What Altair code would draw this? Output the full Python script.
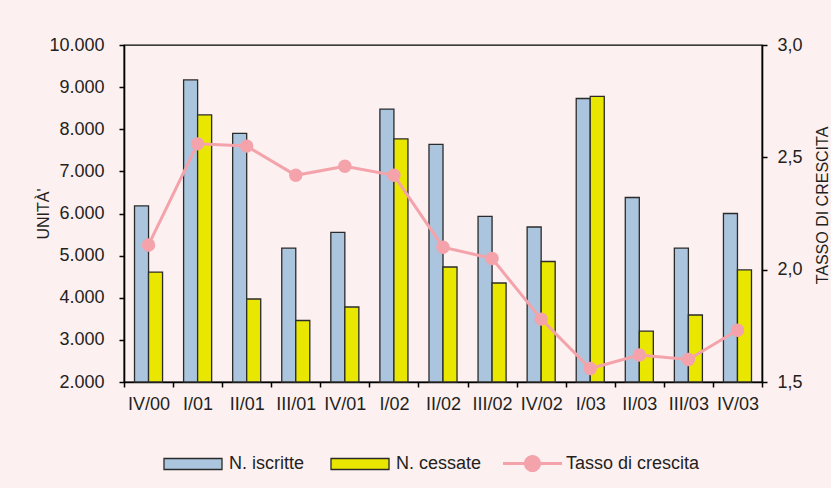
import altair as alt
import pandas as pd

# Quarterly registrations / cessations and growth rate
periodi = ["IV/00", "I/01", "II/01", "III/01", "IV/01", "I/02", "II/02",
           "III/02", "IV/02", "I/03", "II/03", "III/03", "IV/03"]
iscritte = [6180, 9170, 7900, 5180, 5550, 8480, 7640, 5930, 5680, 8730, 6380, 5180, 6000]
cessate = [4610, 8340, 3970, 3460, 3780, 7770, 4730, 4350, 4860, 8780, 3210, 3590, 4660]
tasso = [2.11, 2.56, 2.55, 2.42, 2.46, 2.42, 2.10, 2.05, 1.78, 1.56, 1.62, 1.60, 1.73]

serie_barre = ["N. iscritte", "N. cessate"]
serie_linea = "Tasso di crescita"
colori_barre = ["#abc5de", "#e9e600"]
rosa = "#f4a3ab"
sfondo = "#fdf0f0"
testo = "#231f20"
font = "Liberation Sans"

barre = pd.DataFrame({
    "periodo": periodi * 2,
    "serie": [serie_barre[0]] * len(periodi) + [serie_barre[1]] * len(periodi),
    "valore": iscritte + cessate,
})
linea = pd.DataFrame({"periodo": periodi, "tasso": tasso, "serie": serie_linea})

x_enc = alt.X(
    "periodo:N", sort=periodi,
    scale=alt.Scale(paddingInner=0, paddingOuter=0),
    axis=alt.Axis(title=None, labelAngle=0, tickBand="extent", labelPadding=8),
)

bars = alt.Chart(barre).mark_bar(stroke="#2b2b2b", strokeWidth=1.3).encode(
    x=x_enc,
    xOffset=alt.XOffset("serie:N", sort=serie_barre,
                        scale=alt.Scale(paddingInner=0, paddingOuter=0.75)),
    y=alt.Y(
        "valore:Q",
        scale=alt.Scale(domain=[2000, 10000], nice=False, zero=False),
        axis=alt.Axis(
            values=list(range(2000, 10001, 1000)),
            labelExpr="replace(format(datum.value, ',d'), ',', '.')",
            title="UNITÀ'", titleAngle=270, titleBaseline="middle",
            titleX=-81, titleY=168.5, labelPadding=15,
        ),
    ),
    y2=alt.datum(2000),
    color=alt.Color(
        "serie:N", sort=serie_barre,
        scale=alt.Scale(domain=serie_barre, range=colori_barre),
        legend=alt.Legend(
            title=None, orient="none", legendX=39, legendY=389,
            direction="horizontal",
            symbolType="M-1,-0.19H1V0.19H-1Z", symbolSize=3364,
            symbolStrokeColor="#2b2b2b", symbolStrokeWidth=1.3,
            labelOffset=6, columnPadding=23,
        ),
    ),
)

y_tasso = alt.Scale(domain=[1.5, 3.0], nice=False, zero=False)

line = alt.Chart(linea).mark_line(color=rosa, strokeWidth=3).encode(
    x=x_enc,
    y=alt.Y(
        "tasso:Q", scale=y_tasso,
        axis=alt.Axis(
            orient="right", values=[1.5, 2.0, 2.5, 3.0],
            labelExpr="replace(format(datum.value, '.1f'), '.', ',')",
            title="TASSO DI CRESCITA", titleAngle=270, titleBaseline="middle",
            titleX=60, titleY=160, labelPadding=10,
        ),
    ),
)

points = alt.Chart(linea).mark_circle(size=180, opacity=1).encode(
    x=x_enc,
    y=alt.Y("tasso:Q", scale=y_tasso, axis=None),
    fill=alt.Fill(
        "serie:N",
        scale=alt.Scale(domain=[serie_linea], range=[rosa]),
        legend=alt.Legend(
            title=None, orient="none", legendX=379, legendY=389,
            direction="horizontal",
            symbolType="M-1,-0.05H1V0.05H-1Z M0.29,0A0.29,0.29 0 1,1 -0.29,0A0.29,0.29 0 1,1 0.29,0Z",
            symbolSize=3481, symbolStrokeWidth=0, labelOffset=4,
        ),
    ),
)

chart = alt.layer(bars, line, points).resolve_scale(
    y="independent"
).properties(
    width=638, height=337,
    autosize=alt.AutoSizeParams(type="none"),
    padding={"left": 124, "top": 45, "right": 69, "bottom": 106},
    background=sfondo,
).configure_view(
    stroke="#000000", strokeWidth=1.3,
).configure_axis(
    grid=False, labelFont=font, labelFontSize=18, labelColor=testo,
    titleFont=font, titleFontSize=16, titleFontWeight="normal", titleColor=testo,
    domainColor="#000000", domainWidth=1.6, tickColor="#000000", tickWidth=1.5,
    tickSize=5, labelOverlap=False,
).configure_legend(
    labelFont=font, labelFontSize=18, labelColor=testo,
)

chart.save("out.html", embed_options={"renderer": "svg", "actions": False})
